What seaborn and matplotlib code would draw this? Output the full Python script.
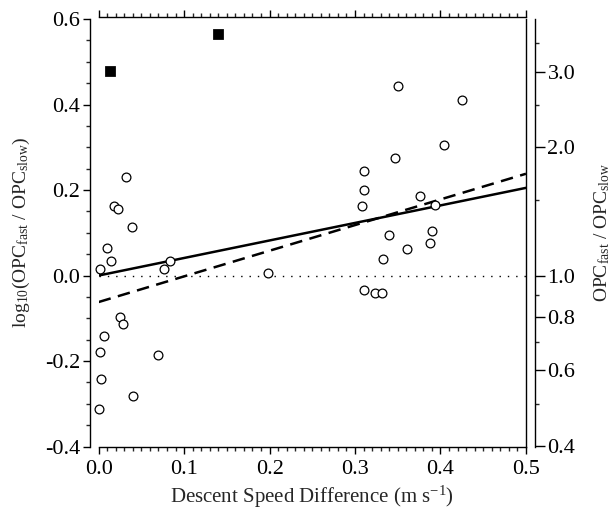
import numpy as np
import pandas as pd
import matplotlib
matplotlib.use("Agg")
import matplotlib.pyplot as plt
import seaborn as sns

# open circles: descent speed difference vs log10 ratio
circ_x = [0.032, 0.018, 0.023, 0.039, 0.010, 0.014, 0.002, 0.077, 0.084,
          0.025, 0.029, 0.006, 0.002, 0.069, 0.003, 0.040, 0.000, 0.198,
          0.350, 0.425, 0.404, 0.347, 0.311, 0.310, 0.308, 0.376, 0.393,
          0.340, 0.390, 0.388, 0.361, 0.333, 0.311, 0.323, 0.332]
circ_y = [0.231, 0.163, 0.156, 0.113, 0.065, 0.033, 0.016, 0.016, 0.033,
          -0.098, -0.114, -0.142, -0.179, -0.187, -0.243, -0.282, -0.312, 0.007,
          0.443, 0.410, 0.305, 0.274, 0.245, 0.199, 0.163, 0.186, 0.166,
          0.095, 0.104, 0.076, 0.063, 0.038, -0.033, -0.042, -0.041]

# filled squares
sq_x = [0.013, 0.140]
sq_y = [0.479, 0.564]

# fit lines
fit_x = [0.0, 0.5]
fit_solid = [0.0, 0.205]
fit_dashed = [-0.062, 0.238]

right_ticks = [0.4, 0.6, 0.8, 1.0, 2.0, 3.0]
right_minor = [0.5, 0.7, 0.9, 1.5, 2.5, 3.5]

sns.set_theme(style="ticks")
plt.rcParams['font.family'] = ['Liberation Serif', 'DejaVu Serif']
plt.rcParams['mathtext.fontset'] = 'custom'
plt.rcParams['mathtext.rm'] = 'Liberation Serif'
plt.rcParams['mathtext.it'] = 'Liberation Serif:italic'
plt.rcParams['axes.edgecolor'] = 'black'
plt.rcParams['axes.linewidth'] = 1.0

fig = plt.figure(figsize=(6.11, 5.11), dpi=100)
ax = fig.add_axes([0.1615, 0.1262, 0.6993, 0.8366])

circ = pd.DataFrame({'x': circ_x, 'y': circ_y})
sq = pd.DataFrame({'x': sq_x, 'y': sq_y})
fits = pd.DataFrame({'x': fit_x, 'solid': fit_solid, 'dashed': fit_dashed})

ax.axhline(0, color='black', lw=1.0, ls=(0, (1, 5)), zorder=1)
sns.lineplot(data=fits, x='x', y='solid', color='black', lw=1.8, ax=ax, zorder=2)
sns.lineplot(data=fits, x='x', y='dashed', color='black', lw=1.8, ax=ax,
             zorder=2, dashes=False, linestyle=(0, (5, 3)))
sns.scatterplot(data=circ, x='x', y='y', marker='o', s=40, facecolor='white',
                edgecolor='black', linewidth=0.9, ax=ax, zorder=3, clip_on=False)
sns.scatterplot(data=sq, x='x', y='y', marker='s', s=48, color='black',
                edgecolor='black', ax=ax, zorder=3, clip_on=False)

ax.set_xlim(0, 0.5)
ax.set_ylim(-0.4, 0.6)
ax.set_xticks(np.arange(0, 0.51, 0.1))
ax.set_xticklabels(['0.0', '0.1', '0.2', '0.3', '0.4', '0.5'])
ax.set_xticks(np.arange(0, 0.501, 0.01), minor=True)
ax.set_yticks([-0.4, -0.2, 0.0, 0.2, 0.4, 0.6])
ax.set_yticklabels(['-0.4', '-0.2', '0.0', '0.2', '0.4', '0.6'])
ax.set_yticks(np.arange(-0.4, 0.601, 0.05), minor=True)

ax.spines['left'].set_position(('outward', 6.5))
ax.spines['top'].set_position(('outward', 1.2))
ax.tick_params(axis='both', which='major', direction='out', length=5, width=1,
               labelsize=16, colors='black', pad=2)
ax.tick_params(axis='both', which='minor', direction='out', length=3, width=1)
ax.tick_params(axis='x', top=True, which='both', labeltop=False)
ax.tick_params(axis='x', which='major', pad=5)

ax.set_xlabel(r'Descent Speed Difference (m s$^{\mathregular{-1}}$)', fontsize=15)
ax.xaxis.set_label_coords(0.5, -0.088)
ax.set_ylabel(r'log$_{\mathregular{10}}$(OPC$_{\mathregular{fast}}$ / OPC$_{\mathregular{slow}}$)',
              fontsize=14)
ax.yaxis.set_label_coords(-0.156, 0.5)

# right axis: ratio on log scale
ax2 = ax.twinx()
ax2.set_yscale('log')
ax2.set_ylim(10 ** -0.4, 10 ** 0.6)
ax2.set_yticks(right_ticks)
ax2.set_yticklabels(['%.1f' % t for t in right_ticks])
ax2.set_yticks(right_minor, minor=True)
ax2.yaxis.set_minor_formatter(matplotlib.ticker.NullFormatter())
ax2.spines['right'].set_position(('outward', 6.5))
for s in ['left', 'top', 'bottom']:
    ax2.spines[s].set_visible(False)
ax2.tick_params(axis='y', which='major', direction='out', length=7, width=1,
                labelsize=16, colors='black', pad=2)
ax2.tick_params(axis='y', which='minor', direction='out', length=3, width=1)
ax2.set_ylabel(r'OPC$_{\mathregular{fast}}$ / OPC$_{\mathregular{slow}}$', fontsize=14)
ax2.yaxis.set_label_coords(1.155, 0.5)

fig.savefig('out.png', dpi=100)
